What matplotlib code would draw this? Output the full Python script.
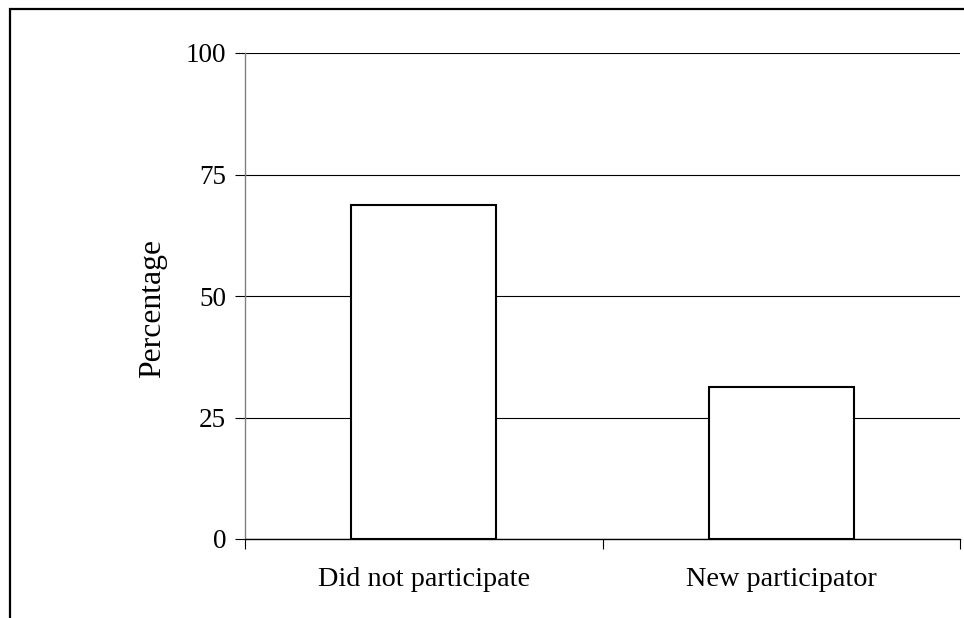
import matplotlib.pyplot as plt
from matplotlib.patches import Rectangle

categories = ['Did not participate', 'New participator']
values = [68.7, 31.3]
yticks = [0, 25, 50, 75, 100]

plt.rcParams['font.family'] = 'Liberation Serif'
plt.rcParams['font.size'] = 19.5

fig = plt.figure(figsize=(9.64, 6.18), dpi=100)
ax = fig.add_axes([245/964, 1 - 539/618, 715/964, 486/618])

x = range(len(categories))
ax.bar(x, values, width=0.405, color='white', edgecolor='black', linewidth=1.5, zorder=3)

ax.set_xlim(-0.5, 1.5)
ax.set_ylim(0, 100)
ax.set_yticks(yticks)
ax.yaxis.grid(True, color='black', linewidth=0.8)
ax.set_axisbelow(True)

# category boundaries get the tick marks, labels sit in between
ax.set_xticks([-0.5, 0.5, 1.5])
ax.set_xticklabels([])
ax.set_xticks(list(x), minor=True)
ax.set_xticklabels(categories, minor=True, fontsize=20.3)
ax.tick_params(axis='x', which='major', direction='out', length=7, width=0.8)
ax.tick_params(axis='x', which='minor', length=0, pad=20)
ax.tick_params(axis='y', direction='out', length=7, width=0.8, pad=6.5)

for s in ['top', 'right']:
    ax.spines[s].set_visible(False)
ax.spines['left'].set_color('#808080')
ax.spines['left'].set_linewidth(1)
ax.spines['bottom'].set_linewidth(1)

ax.set_ylabel('Percentage', fontsize=22.8)
ax.yaxis.set_label_coords(-0.109, 0.475)

# outer frame, cut off at right and bottom like the source
fig.patches.append(Rectangle((10/964, -0.1), 1.2, 1 - 9/618 + 0.1,
                             transform=fig.transFigure, fill=False,
                             edgecolor='black', linewidth=1.6))

fig.savefig('out.png', dpi=100)
